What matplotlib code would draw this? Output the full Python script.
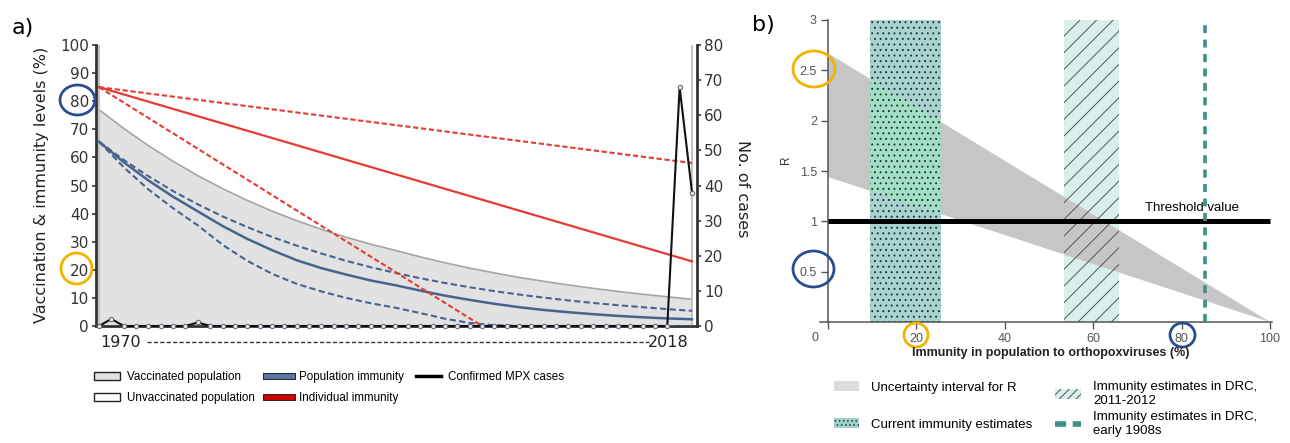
# -*- coding: utf-8 -*-
"""
MPX: vaccination / immunity decline (a) and R vs population immunity (b)
"""
import matplotlib
matplotlib.use('Agg')
import matplotlib.pyplot as plt
import matplotlib.font_manager as fm
import matplotlib.patheffects as pe
from matplotlib.patches import Ellipse, Patch
from matplotlib.lines import Line2D

# ---- panel a data ----
years = [1970, 1972, 1974, 1976, 1978, 1980, 1982, 1984, 1986, 1988, 1990, 1992, 1994,
         1996, 1998, 2000, 2002, 2004, 2006, 2008, 2010, 2012, 2014, 2016, 2018]
vaccinated = [77, 70.3, 64.2, 58.6, 53.5, 48.9, 44.7, 40.9, 37.5, 34.4, 31.6, 29.1, 26.9,
              24.6, 22.5, 20.6, 18.9, 17.3, 15.9, 14.6, 13.4, 12.3, 11.3, 10.4, 9.5]
pop_imm = [65.6, 58.3, 51.8, 46.0, 40.8, 35.6, 31.0, 27.0, 23.4, 20.6, 18.3, 16.2, 14.5,
           12.6, 10.8, 9.3, 7.9, 6.7, 5.7, 4.9, 4.2, 3.6, 3.1, 2.7, 2.4]
pop_imm_hi = [65.6, 59.1, 53.3, 48.0, 43.3, 39.0, 35.2, 31.7, 28.6, 25.8, 23.2, 20.9, 18.9,
              17.0, 15.3, 13.8, 12.4, 11.2, 10.1, 9.1, 8.2, 7.4, 6.7, 6.0, 5.4]
pop_imm_lo = [65.6, 56.5, 48.6, 41.9, 35.8, 28.9, 23.2, 18.6, 15.0, 12.3, 10.0, 8.1, 6.5,
              4.6, 2.6, 1.1, 0.3, 0, 0, 0, 0, 0, 0, 0, 0]

indiv_years = [1970, 2018]
indiv = [85, 23]
indiv_hi = [85, 58]
indiv_lo_years = [1970, 2001]
indiv_lo = [85, 0]

case_years = list(range(1970, 2019))
cases = [0, 2, 0, 0, 0, 0, 0, 0, 1, 0,
         0, 0, 0, 0, 0, 0, 0, 0, 0, 0,
         0, 0, 0, 0, 0, 0, 0, 0, 0, 0,
         0, 0, 0, 0, 0, 0, 0, 0, 0, 0,
         0, 0, 0, 0, 0, 0, 0, 68, 38]

# ---- panel b data ----
immunity = [0, 100]
r_upper = [2.67, 0]
r_lower = [1.44, 0]
current_band = [9.5, 25.5]
drc_2011_band = [53.3, 65.8]
drc_1980s = 85.4
threshold = 1
r_top = 3

W, H = 1290, 443
names = {f.name for f in fm.fontManager.ttflist}
narrow = 'Liberation Sans Narrow' if 'Liberation Sans Narrow' in names else 'Liberation Sans'
plt.rcParams['hatch.linewidth'] = 0.7

fig = plt.figure(figsize=(W / 100, H / 100), dpi=100)

# ================= panel a =================
ax = fig.add_axes([96 / W, 1 - 326 / H, (697 - 96) / W, (326 - 45) / H])
ax.set_xlim(1969.757, 2018.405)
ax.set_ylim(0, 100)

ax.fill_between(years, 0, vaccinated, color='#e2e2e2', lw=0, zorder=1)
ax.plot(years, vaccinated, color='#a5a5a5', lw=1.2, zorder=2)
ax.axvline(1970, color='#c4c4c4', lw=1.5, zorder=2)
ax.axvline(2018, color='#c4c4c4', lw=1.5, zorder=2)

blue = '#46648e'
ax.plot(years, pop_imm, color=blue, lw=1.8, zorder=3)
ax.plot(years, pop_imm_hi, color=blue, lw=1.5, ls=(0, (3, 1.6)), zorder=3)
ax.plot(years, pop_imm_lo, color=blue, lw=1.5, ls=(0, (3, 1.6)), zorder=3)

red = '#e63a32'
ax.plot(indiv_years, indiv, color=red, lw=1.6, zorder=3)
ax.plot(indiv_years, indiv_hi, color=red, lw=1.5, ls=(0, (2.5, 1.3)), zorder=3)
ax.plot(indiv_lo_years, indiv_lo, color=red, lw=1.5, ls=(0, (2.5, 1.3)), zorder=3)

ax.set_xticks([])
ax.set_yticks(range(0, 101, 10))
for s in ['top', 'right']:
    ax.spines[s].set_visible(False)
for s in ['left', 'bottom']:
    ax.spines[s].set_color('#333333')
    ax.spines[s].set_linewidth(2)
ax.tick_params(axis='y', length=3, width=1.2, color='#333333', labelsize=11,
               labelcolor='#333333', pad=2)

ax2 = ax.twinx()
ax2.set_ylim(0, 80)
ax2.set_yticks(range(0, 81, 10))
ax2.plot(case_years, cases, color='#111111', lw=1.5, marker='o', ms=3.2,
         mfc='#e6e6ee', mec='#606070', mew=0.7, zorder=5, clip_on=False)
for s in ['top', 'left', 'bottom']:
    ax2.spines[s].set_visible(False)
ax2.spines['right'].set_color('#333333')
ax2.spines['right'].set_linewidth(2)
ax2.tick_params(axis='y', length=3, width=1.2, color='#333333', labelsize=11,
                labelcolor='#333333', pad=2)

fig.text(42 / W, 1 - 185 / H, 'Vaccination & immunity levels (%)', rotation=90,
         ha='center', va='center', fontsize=11.5, color='#222222')
fig.text(742 / W, 1 - 189 / H, 'No. of cases', rotation=270,
         ha='center', va='center', fontsize=11.5, color='#222222')

xt = ax.get_xaxis_transform()
ax.text(1970.1, -0.057, '1970', transform=xt, ha='left', va='center',
        fontsize=11.5, color='#222222')
ax.text(2017.7, -0.057, '2018', transform=xt, ha='right', va='center',
        fontsize=11.5, color='#222222')
ax.plot([1973.9, 2014.5], [-0.057, -0.057], transform=xt, clip_on=False,
        color='#333333', lw=1, ls=(0, (3, 1.6)))

fig.text(12 / W, 1 - 28 / H, 'a)', fontsize=16, ha='left', va='center')

leg_a = [
    Patch(facecolor='#e2e2e2', edgecolor='#222222', lw=1, label='Vaccinated population'),
    Patch(facecolor='white', edgecolor='#222222', lw=1, label='Unvaccinated population'),
    Line2D([0], [0], color='#5a7aa5', lw=3.5,
           path_effects=[pe.Stroke(linewidth=5, foreground='#222222'), pe.Normal()],
           label='Population immunity'),
    Line2D([0], [0], color='#d40000', lw=3.5,
           path_effects=[pe.Stroke(linewidth=5, foreground='#222222'), pe.Normal()],
           label='Individual immunity'),
    Line2D([0], [0], color='black', lw=2.5, label='Confirmed MPX cases'),
]
fig.legend(handles=leg_a, ncol=3, loc='upper left', bbox_to_anchor=(94 / W, 1 - 371 / H),
           frameon=False, borderpad=0, borderaxespad=0, labelspacing=0.75,
           columnspacing=1.0, handlelength=2.2, handletextpad=0.6,
           prop={'family': [narrow, 'DejaVu Sans'], 'size': 8.4})

# ================= panel b =================
bx = fig.add_axes([820 / W, 1 - 322 / H, (1272 - 820) / W, (322 - 20) / H])
bx.set_xlim(-1.8, 100.45)
bx.set_ylim(0, r_top)

teal_face = '#a9d2d0'
bx.fill_between(current_band, 0, r_top, facecolor=teal_face, lw=0, zorder=1)
bx.fill_between(drc_2011_band, 0, r_top, facecolor='#d8efeb', lw=0, zorder=1)
tri = bx.fill_between(immunity, r_lower, r_upper, facecolor='#c6c6c6', lw=0, zorder=2)
green = bx.fill_between(current_band, 0, r_top, facecolor='#a3dfc4', lw=0, zorder=2.5)
green.set_clip_path(tri.get_paths()[0], bx.transData)
bx.fill_between(current_band, 0, r_top, facecolor='none', edgecolor='#1c3a3a',
                hatch='...', lw=0, zorder=3)
bx.fill_between(drc_2011_band, 0, r_top, facecolor='none', edgecolor='#555555',
                hatch='//', lw=0, zorder=3)

bx.plot(immunity, [threshold, threshold], color='black', lw=3.6, zorder=4,
        solid_capstyle='butt')
bx.plot([drc_1980s, drc_1980s], [0, r_top], color='#3d8f8c', lw=2.6,
        ls=(0, (2.2, 1.8)), zorder=5)
bx.text(82.3, 1.13, 'Threshold value', ha='center', va='center', fontsize=9.5,
        family=['Liberation Sans', 'DejaVu Sans'], zorder=6)

for s in ['top', 'right']:
    bx.spines[s].set_visible(False)
bx.spines['left'].set_position(('data', 0))
bx.spines['left'].set_color('#555555')
bx.spines['bottom'].set_color('#555555')
bx.spines['left'].set_linewidth(1.1)
bx.spines['bottom'].set_linewidth(1.1)
bx.set_yticks([0.5, 1, 1.5, 2, 2.5, 3])
bx.set_yticklabels(['0.5', '1', '1.5', '2', '2.5', '3'])
bx.set_xticks([0, 20, 40, 60, 80, 100])
bx.set_xticklabels(['', '20', '40', '60', '80', '100'])
bx.tick_params(length=5, width=1, color='#555555', labelcolor='#555555', labelsize=9,
               pad=3)
for lbl in bx.get_xticklabels() + bx.get_yticklabels():
    lbl.set_family([narrow, 'DejaVu Sans'])
bx.text(-2.9, -0.16, '0', ha='center', va='center', fontsize=9, color='#555555',
        family=[narrow, 'DejaVu Sans'], clip_on=False)

fig.text(786 / W, 1 - 160 / H, 'R', rotation=90, ha='center', va='center',
         fontsize=8.5, family=[narrow, 'DejaVu Sans'], color='#333333')
fig.text(1051 / W, 1 - 353 / H, 'Immunity in population to orthopoxviruses (%)',
         ha='center', va='center', fontsize=9, fontweight='bold',
         family=[narrow, 'DejaVu Sans'], color='#222222')
fig.text(752 / W, 1 - 25 / H, 'b)', fontsize=16, ha='left', va='center')

leg_b1 = [
    Patch(facecolor='#dcdcdc', lw=0, label='Uncertainty interval for R'),
    Patch(facecolor='#9fd3cc', edgecolor='#2a4a4a', hatch='....', lw=0,
          label='Current immunity estimates'),
]
leg_b2 = [
    Patch(facecolor='#d8efeb', edgecolor='#555555', hatch='////', lw=0,
          label='Immunity estimates in DRC,\n2011-2012'),
    Line2D([0], [0], color='#3d8f8c', lw=4, ls=(0, (2, 1.2)),
           label='Immunity estimates in DRC,\nearly 1908s'),
]
fig.legend(handles=leg_b1, loc='upper left', bbox_to_anchor=(834 / W, 1 - 381 / H),
           frameon=False, borderpad=0, borderaxespad=0, labelspacing=1.85,
           handlelength=1.9, handleheight=0.8, handletextpad=0.9,
           prop={'family': ['Liberation Sans', 'DejaVu Sans'], 'size': 9.5})
fig.legend(handles=leg_b2, loc='upper left', bbox_to_anchor=(1055 / W, 1 - 381 / H),
           frameon=False, borderpad=0, borderaxespad=0, labelspacing=0.35,
           handlelength=2.0, handleheight=0.8, handletextpad=0.9,
           prop={'family': ['Liberation Sans', 'DejaVu Sans'], 'size': 9.5})

# ---- highlight circles (figure pixels: cx, cy, w, h, colour) ----
circles = [
    (77.5, 100, 35, 30, '#2a4d8f'),
    (76.5, 268.5, 31, 31, '#f0b400'),
    (814, 69, 42, 36, '#f0b400'),
    (813.5, 269, 41, 36, '#2a4d8f'),
    (916, 335, 24, 24, '#f0b400'),
    (1182.5, 335, 25, 24, '#2a4d8f'),
]
for cx, cy, w, h, c in circles:
    fig.add_artist(Ellipse((cx / W, 1 - cy / H), w / W, h / H, transform=fig.transFigure,
                           fill=False, ec=c, lw=2))

plt.savefig('out.png', dpi=100)
plt.close()
